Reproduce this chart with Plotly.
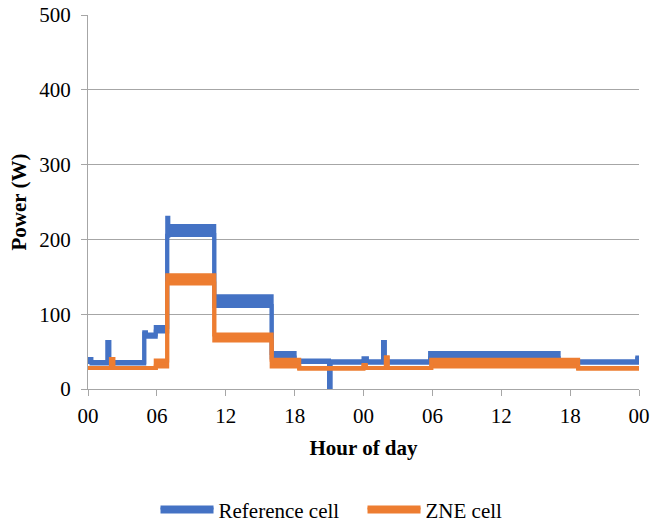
import plotly.graph_objects as go

# Step data: each value holds from its hour until the next hour
ref_hours = [0, 0.3, 1.7, 1.85, 4.9, 5.05, 5.9, 6.9, 7.0, 11.0, 16.0, 18.0, 21.0, 21.12,
             24.0, 24.3, 25.7, 25.85, 29.8, 41.0, 47.85, 48]
ref_low = [36, 34, 63, 34, 74, 70, 77, 205, 206, 111, 42, 36, 0, 35,
           37, 35, 63, 35, 41, 35, 40, 40]
ref_high = [40, 36, 63, 36, 76, 73, 83, 229, 218, 124, 48, 38, 0, 37,
            41, 37, 63, 37, 48, 37, 42, 42]

zne_hours = [0, 2.0, 2.2, 5.9, 6.9, 11.0, 16.0, 18.4, 24.0, 24.2, 25.95, 26.1,
             29.9, 42.7, 48]
zne_low = [28, 40, 28, 30, 141, 65, 30, 27, 30, 28, 42, 28, 30, 27, 27]
zne_high = [28, 40, 28, 38, 152, 73, 39, 28, 32, 28, 42, 28, 39, 28, 28]

tick_hours = [0, 6, 12, 18, 24, 30, 36, 42, 48]
tick_labels = ["00", "06", "12", "18", "00", "06", "12", "18", "00"]
y_ticks = [0, 100, 200, 300, 400, 500]

BLUE = "#4472C4"
ORANGE = "#ED7D31"
GRID = "#A6A6A6"
FONT = "'Liberation Serif', 'Times New Roman', serif"
FS = 21

fig = go.Figure()


def add_band(hours, low, high, color, name):
    fig.add_trace(go.Scatter(x=hours, y=low, mode="lines", line=dict(color=color, width=4, shape="hv"),
                             showlegend=False, hoverinfo="skip"))
    fig.add_trace(go.Scatter(x=hours, y=high, mode="lines", line=dict(color=color, width=4, shape="hv"),
                             fill="tonexty", fillcolor=color, name=name, showlegend=True))


add_band(ref_hours, ref_low, ref_high, BLUE, "Reference cell")
add_band(zne_hours, zne_low, zne_high, ORANGE, "ZNE cell")

fig.update_layout(
    template="none",
    width=652, height=523,
    margin=dict(l=88, r=13, t=15, b=134),
    paper_bgcolor="white", plot_bgcolor="white",
    font=dict(family=FONT, size=FS, color="black"),
    showlegend=True,
    legend=dict(orientation="h", xref="container", x=0.556, xanchor="center",
                yref="container", y=0.025, yanchor="middle",
                font=dict(family=FONT, size=FS), itemwidth=53, traceorder="normal",
                entrywidth=139, entrywidthmode="pixels"),
    xaxis=dict(range=[0, 48], tickvals=tick_hours, ticktext=tick_labels, automargin=False,
               showgrid=False, zeroline=False, showline=True, linecolor=GRID, linewidth=1,
               ticks="outside", ticklen=6, tickcolor=GRID,
               tickfont=dict(family=FONT, size=FS), ticklabelstandoff=2,
               title=dict(text="<b>Hour of day</b>", font=dict(family=FONT, size=FS), standoff=13)),
    yaxis=dict(range=[0, 500], tickvals=y_ticks, automargin=False,
               showgrid=True, gridcolor=GRID, gridwidth=1, zeroline=False,
               showline=True, linecolor=GRID, linewidth=1,
               ticks="outside", ticklen=6, tickcolor=GRID,
               tickfont=dict(family=FONT, size=FS), ticklabelstandoff=6,
               title=dict(text="<b>Power (W)</b>", font=dict(family=FONT, size=FS), standoff=6)),
)

fig.write_html("out.html")
